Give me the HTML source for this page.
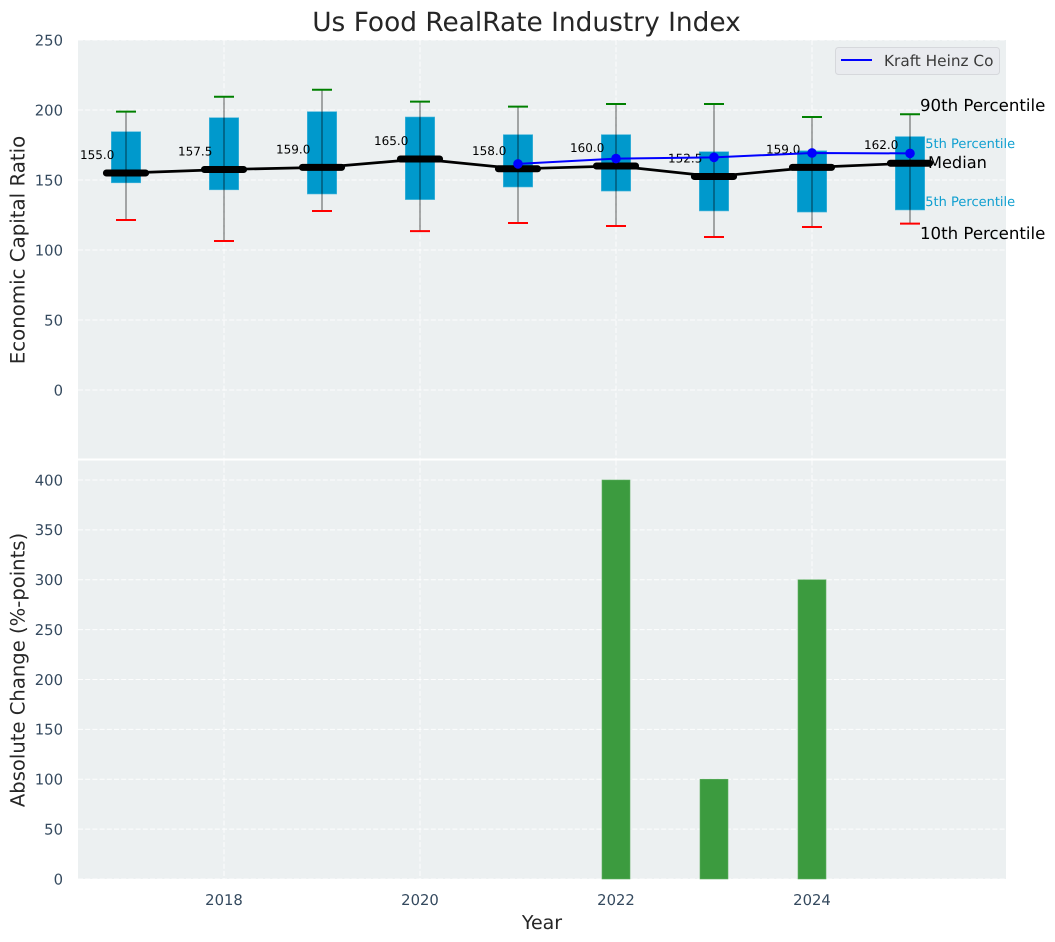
<!DOCTYPE html>
<html>
<head>
<meta charset="utf-8">
<title>Us Food RealRate Industry Index</title>
<style>
html,body{margin:0;padding:0;background:#fff;width:1055px;height:942px;overflow:hidden}
svg{display:block;font-family:"DejaVu Sans","Liberation Sans",sans-serif;text-rendering:geometricPrecision}
</style>
</head>
<body>
<svg id="chart" width="1055" height="942" viewBox="0 0 1055 942" xmlns="http://www.w3.org/2000/svg">
  <rect x="78" y="40" width="928" height="418.5" fill="#ecf0f1"/>
  <rect x="78" y="460.5" width="928" height="418.5" fill="#ecf0f1"/>
  <g id="grid"></g>
  <text x="526.5" y="31" text-anchor="middle" font-size="26.4" fill="#262626">Us Food RealRate Industry Index</text>
  <text transform="translate(24.5,250) rotate(-90)" text-anchor="middle" font-size="19.8" fill="#262626">Economic Capital Ratio</text>
  <text transform="translate(24.5,670) rotate(-90)" text-anchor="middle" font-size="19.6" fill="#262626">Absolute Change (%-points)</text>
  <text x="542" y="929" text-anchor="middle" font-size="19" fill="#262626">Year</text>
  <g id="ticks"></g>
  <g>
    <text x="917" y="148" font-size="13" fill="#0f9fd0">75th Percentile</text>
    <text x="917" y="206" font-size="13" fill="#0f9fd0">25th Percentile</text>
  </g>
  <g id="marks"></g>
  <g>
    <text x="920" y="111" font-size="16.6" fill="#000">90th Percentile</text>
    <text x="928" y="168" font-size="16.2" fill="#000">Median</text>
    <text x="920" y="239" font-size="16.6" fill="#000">10th Percentile</text>
  </g>
  <g>
    <rect x="835.5" y="47.5" width="164" height="27" rx="3" fill="#e9ebef" stroke="#d6d8dc" stroke-width="1"/>
    <line x1="841" y1="60" x2="872" y2="60" stroke="#0000ff" stroke-width="2"/>
    <text x="884" y="66" font-size="15.3" fill="#3a3a3a">Kraft Heinz Co</text>
  </g>
</svg>
<script>
const years = [2017, 2018, 2019, 2020, 2021, 2022, 2023, 2024, 2025];
const p90 = [198.8, 209.5, 214.5, 206, 202.4, 204.3, 204.3, 195, 197];
const p75 = [184.5, 194.5, 198.8, 195, 182.4, 182.4, 170.2, 170.9, 181];
const median = [155, 157.5, 159, 165, 158, 160, 152.5, 159, 162];
const p25 = [148, 143, 140, 136, 145, 142.1, 127.9, 127.1, 128.6];
const p10 = [121.4, 106.4, 127.9, 113.5, 119.3, 117.1, 109.3, 116.4, 118.8];
const medianLabels = ['155.0', '157.5', '159.0', '165.0', '158.0', '160.0', '152.5', '159.0', '162.0'];
const companyYears = [2021, 2022, 2023, 2024, 2025];
const companyValues = [161.5, 165.3, 166.2, 169.3, 169];
const changeYears = [2022, 2023, 2024];
const changeValues = [400, 100, 300];
const xTickLabels = [2018, 2020, 2022, 2024];
const topYTicks = [0, 50, 100, 150, 200, 250];
const bottomYTicks = [0, 50, 100, 150, 200, 250, 300, 350, 400];

const NS = 'http://www.w3.org/2000/svg';
const xScale = v => 224 + (v - 2018) * 98;
const yTop = v => 390 - v * 1.4;
const yBottom = v => 879 - v * 0.9975;
const xLeft = 78, xRight = 1006;

function make(parent, tag, attrs, text) {
  const el = document.createElementNS(NS, tag);
  for (const k in attrs) el.setAttribute(k, attrs[k]);
  if (text !== undefined) el.textContent = text;
  parent.appendChild(el);
  return el;
}
const grid = document.getElementById('grid');
const ticks = document.getElementById('ticks');
const marks = document.getElementById('marks');
const gridStyle = {stroke: '#ffffff', 'stroke-width': 1, 'stroke-dasharray': '5 2.2', opacity: 0.9};
const tickFont = 14.8;

topYTicks.forEach(v => {
  const gl = make(grid, 'line', Object.assign({x1: xLeft, x2: xRight, y1: yTop(v), y2: yTop(v)}, gridStyle));
  
  
  const t = make(ticks, 'text', {x: 63, y: yTop(v) + 5.3, 'text-anchor': 'end', 'font-size': tickFont, fill: '#34495e'}, v);
  
  
});
bottomYTicks.forEach(v => {
  const gl = make(grid, 'line', Object.assign({x1: xLeft, x2: xRight, y1: yBottom(v), y2: yBottom(v)}, gridStyle));
  
  
  const t = make(ticks, 'text', {x: 63, y: yBottom(v) + 5.3, 'text-anchor': 'end', 'font-size': tickFont, fill: '#34495e'}, v);
  
  
});
xTickLabels.forEach(v => {
  const g1 = make(grid, 'line', Object.assign({x1: xScale(v), x2: xScale(v), y1: 40, y2: 458.5}, gridStyle));
  
  
  const g2 = make(grid, 'line', Object.assign({x1: xScale(v), x2: xScale(v), y1: 460.5, y2: 879}, gridStyle));
  
  
  const t = make(ticks, 'text', {x: xScale(v), y: 905, 'text-anchor': 'middle', 'font-size': tickFont, fill: '#34495e'}, v);
  
  
});

years.forEach((yr, i) => {
  const x = xScale(yr);
  const box = make(marks, 'rect', {x: x - 14.7, y: yTop(p75[i]), width: 29.4, height: yTop(p25[i]) - yTop(p75[i]), fill: '#0099cc', stroke: '#4db8dc', 'stroke-width': 0.6});
  
  
  const whisker = make(marks, 'line', {x1: x, x2: x, y1: yTop(p90[i]), y2: yTop(p10[i]), stroke: '#000', 'stroke-opacity': 0.45, 'stroke-width': 1.4});
  
  
  const hi = make(marks, 'line', {x1: x - 10, x2: x + 10, y1: yTop(p90[i]), y2: yTop(p90[i]), stroke: '#008000', 'stroke-width': 2});
  
  
  const lo = make(marks, 'line', {x1: x - 10, x2: x + 10, y1: yTop(p10[i]), y2: yTop(p10[i]), stroke: '#ff0000', 'stroke-width': 2});
  
  
});

const medianLine = make(marks, 'polyline', {points: years.map((yr, i) => xScale(yr) + ',' + yTop(median[i])).join(' '), fill: 'none', stroke: '#000', 'stroke-width': 2.7});



years.forEach((yr, i) => {
  const x = xScale(yr);
  const bar = make(marks, 'line', {x1: x - 19.6, x2: x + 19.6, y1: yTop(median[i]), y2: yTop(median[i]), stroke: '#000', 'stroke-width': 7, 'stroke-linecap': 'round'});
  
  
  const label = make(marks, 'text', {x: x - 46, y: yTop(median[i]) - 14, 'font-size': 12, fill: '#000'}, medianLabels[i]);
  
  
});

const companyLine = make(marks, 'polyline', {points: companyYears.map((yr, i) => xScale(yr) + ',' + yTop(companyValues[i])).join(' '), fill: 'none', stroke: '#0000ff', 'stroke-width': 2});


companyYears.forEach((yr, i) => {
  const dot = make(marks, 'circle', {cx: xScale(yr), cy: yTop(companyValues[i]), r: 4.8, fill: '#0000ff'});
  
  
});

changeYears.forEach((yr, i) => {
  const top = yBottom(changeValues[i]);
  const bar = make(marks, 'rect', {x: xScale(yr) - 14, y: top, width: 28, height: yBottom(0) - top, fill: '#3c9b3f', stroke: '#5fb062', 'stroke-width': 0.6});
  
  
});
</script>
</body>
</html>
